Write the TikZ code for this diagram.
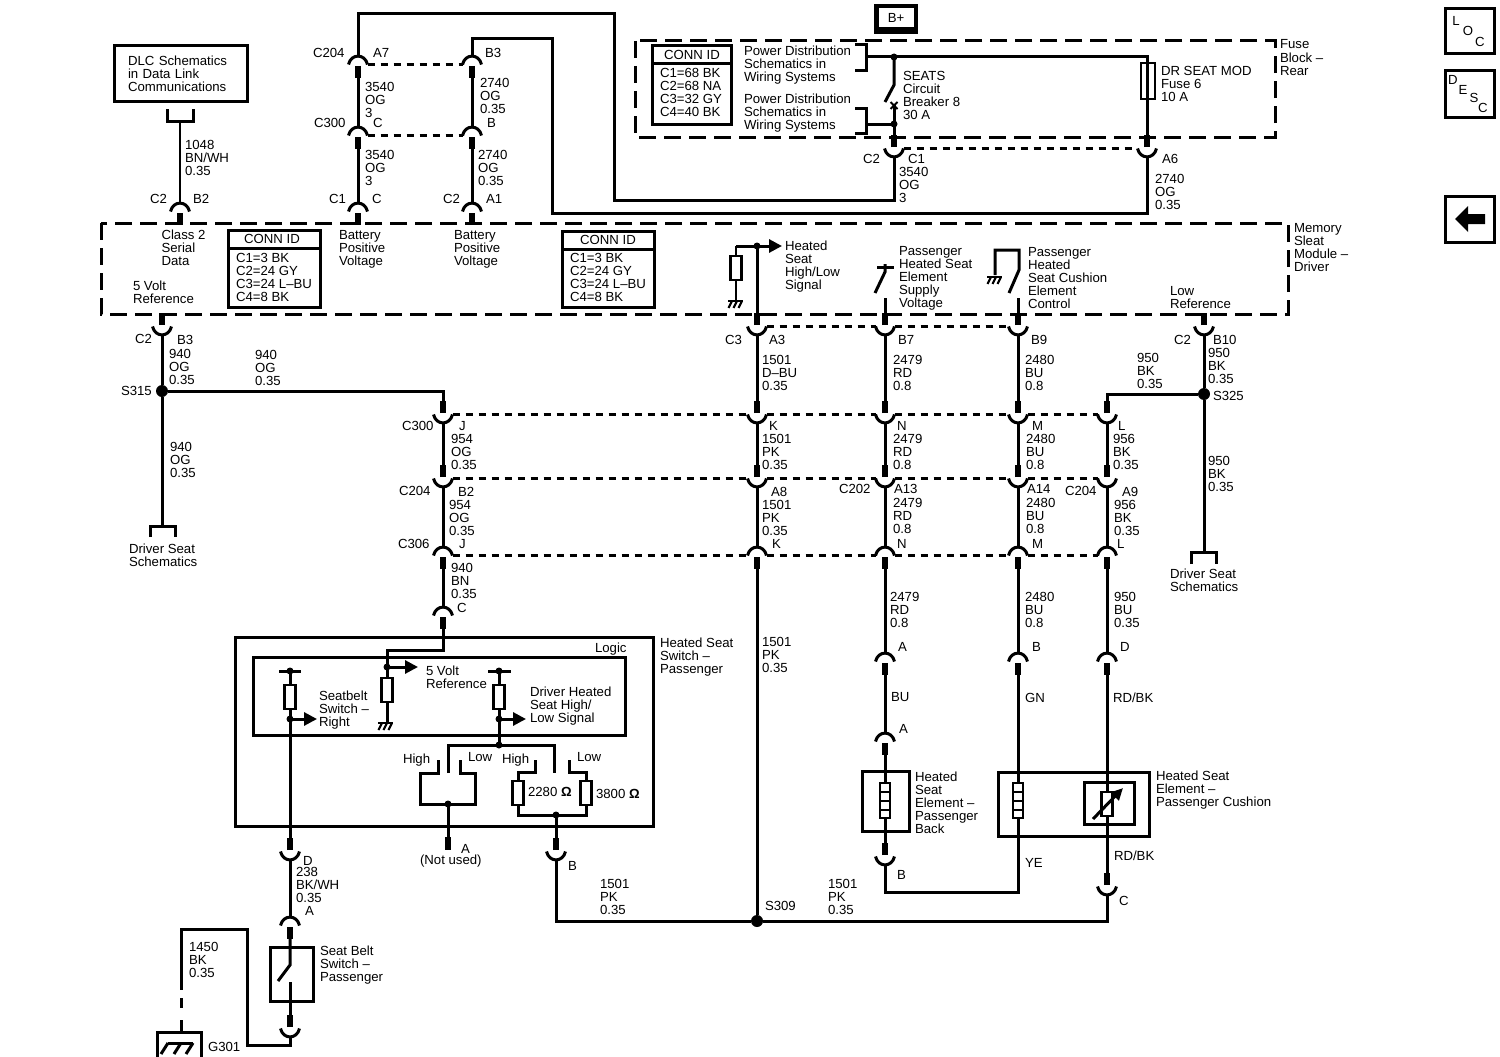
\documentclass[tikz,border=0pt]{standalone}
\usepackage{fontspec}
\setmainfont{Liberation Sans}
\usetikzlibrary{arrows.meta,calc}
\newcounter{lbn}
\tikzset{
  wire/.style={line width=3pt,line cap=butt,line join=miter},
  thin wire/.style={line width=2.5pt,line join=miter},
  pinstub/.style={line width=5.5pt},
  boxline/.style={line width=3pt,line join=miter},
  modframe/.style={line width=3pt,dash pattern=on 17pt off 8pt},
  linkdash/.style={line width=2.8pt,dash pattern=on 7pt off 6pt},
  lbl/.style={anchor=north west,inner sep=0pt,outer sep=0pt,align=left,font=\fontsize{13.2}{13.2}\selectfont},
  ctr/.style={inner sep=0pt,outer sep=0pt,font=\fontsize{13.2}{13.2}\selectfont},
  sig/.style={wire,-{Triangle[length=13pt,width=13pt]}},
  dotj/.style={circle,fill=black,inner sep=0pt,minimum size=12pt},
  dots/.style={circle,fill=black,inner sep=0pt,minimum size=7pt},
}
% text label: x, top y, text
\newcommand\lab[3]{\stepcounter{lbn}\node[lbl] (t\arabic{lbn}) at (#1,#2) {\rule{0pt}{10pt}#3};}
% connector, arc on top, pin below
\newcommand\conU[3]{%
  \coordinate (#1) at (#2,#3);
  \coordinate (#1-p) at (#2,#3+22);
  \coordinate (#1-L) at ({#2-9.5},{#3+8.5});
  \coordinate (#1-R) at ({#2+9.5},{#3+8.5});
  \draw[line width=3pt] (#1-L) .. controls ({#2-7},{#3-2.7}) and ({#2+7},{#3-2.7}) .. (#1-R);
  \draw[pinstub] ({#2},{#3+10}) -- (#1-p);}
% connector, pin above, arc below
\newcommand\conD[3]{%
  \coordinate (#1) at (#2,#3);
  \coordinate (#1-p) at (#2,#3-22);
  \coordinate (#1-L) at ({#2-9.5},{#3-8.5});
  \coordinate (#1-R) at ({#2+9.5},{#3-8.5});
  \draw[line width=3pt] (#1-L) .. controls ({#2-7},{#3+2.7}) and ({#2+7},{#3+2.7}) .. (#1-R);
  \draw[pinstub] ({#2},{#3-10}) -- (#1-p);}
\newcommand\resis[3]{\draw[thin wire,fill=white] ({#1-5.5},#2) rectangle ({#1+5.5},#3);}
\newcommand\gnd[2]{%
  \draw[thin wire] ({#1-8},#2) -- ({#1+7},#2);
  \foreach \dx in {-4,1,6} {\draw[line width=2.2pt] ({#1+\dx},#2) -- ({#1+\dx-3.5},{#2+7});}}
\newcommand\heater[1]{%
  \draw[thin wire,fill=white] ({#1-5},783) rectangle ({#1+5},818);
  \foreach \yy in {792,801,810} {\draw[line width=2.2pt] ({#1-5},\yy) -- ({#1+5},\yy);}}
\newcommand\connid[9]{% x1 y1 x2 y2 divider titlecx linesx linesy lines
  \draw[boxline] (#1,#2) rectangle (#3,#4);
  \draw[boxline] (#1,#5) -- (#3,#5);
  \stepcounter{lbn}\node[ctr] (t\arabic{lbn}) at (#6,{#5-9}) {CONN ID};
  \lab{#7}{#8}{#9}}
\begin{document}
\begin{tikzpicture}[x=1pt,y=-1pt]
\useasboundingbox (0,0) rectangle (1500,1057);

% ---------- frames
\draw[modframe] (101,223) rectangle (1288,314);
\draw[modframe] (635,41) rectangle (1275,137);

% ---------- DLC
\node[draw,line width=3pt,minimum width=133pt,minimum height=55pt,inner sep=0pt,text width=105pt,align=left,font=\fontsize{13.2}{13.2}\selectfont] (dlc) at (180.5,73.5) {DLC Schematics\\in Data Link\\Communications};
\coordinate (dlcbL) at (167,109); \coordinate (dlcbR) at (193,109); \coordinate (dlcbM) at (180,121);
\draw[wire] (dlcbL) |- (dlcbM) -| (dlcbR);
\conU{cB2}{180}{203}
\draw[wire,line width=2.5pt] (dlcbM) -- (cB2);
\lab{185}{139}{1048\\BN/WH\\0.35}
\lab{150}{193}{C2} \lab{193}{193}{B2}
\lab{161.5}{229.5}{Class 2\\Serial\\Data}
\connid{228}{230}{320}{307}{248}{272}{236}{252}{C1=3 BK\\C2=24 GY\\C3=24 L–BU\\C4=8 BK}
\lab{133}{280}{5 Volt\\Reference}

% ---------- battery feeds
\conU{cA7}{358}{56} \conU{cB3}{472}{56}
\conU{cC3a}{358}{127} \conU{cBb}{472}{127}
\conU{cC1l}{358}{203} \conU{cA1}{472}{203}
\draw[linkdash] (cA7-R) -- (cB3-L);
\draw[linkdash] (cC3a-R) -- (cBb-L);
\draw[wire] (cA7-p) -- (cC3a);
\draw[wire] (cC3a-p) -- (cC1l);
\draw[wire] (cB3-p) -- (cBb);
\draw[wire] (cBb-p) -- (cA1);
\lab{313}{47.5}{C204} \lab{373}{47.5}{A7}
\lab{365}{81}{3540\\OG\\3}
\lab{485}{47.5}{B3} \lab{480}{77}{2740\\OG\\0.35}
\lab{314}{117}{C300} \lab{373}{118}{C} \lab{487}{118}{B}
\lab{365}{149}{3540\\OG\\3} \lab{478}{149}{2740\\OG\\0.35}
\lab{329}{193}{C1} \lab{372}{193}{C} \lab{443}{193}{C2} \lab{486}{193}{A1}
\lab{339}{229.5}{Battery\\Positive\\Voltage}
\lab{454}{229.5}{Battery\\Positive\\Voltage}
\connid{562}{231}{654}{307}{249}{608}{570}{252}{C1=3 BK\\C2=24 GY\\C3=24 L–BU\\C4=8 BK}

% ---------- fuse block
\connid{652}{46}{731}{124}{64}{692}{660}{67}{C1=68 BK\\C2=68 NA\\C3=32 GY\\C4=40 BK}
\lab{744}{45}{Power Distribution\\Schematics in\\Wiring Systems}
\lab{744}{93}{Power Distribution\\Schematics in\\Wiring Systems}
\coordinate (br1a) at (855,45); \coordinate (br1b) at (855,71); \coordinate (br1m) at (866,57);
\coordinate (br2a) at (855,108); \coordinate (br2b) at (855,133); \coordinate (br2m) at (866,124);
\draw[wire] (br1a) -| (br1m) |- (br1b);
\draw[wire] (br2a) -| (br2m) |- (br2b);
\coordinate (cbTop) at (894,57); \coordinate (cbA) at (894,85); \coordinate (cbB) at (885,102);
\coordinate (cbX) at (894,105); \coordinate (cbJ) at (894,124); \coordinate (fuTop) at (1147,57);
\conD{cC1r}{894}{157} \conD{cA6}{1147}{157}
\draw[wire] (br1m) -- (fuTop) -- (cA6-p);
\draw[wire] (cbTop) -- (cbA) -- (cbB);
\draw[wire] (cbX) -- (cC1r-p);
\draw[wire] (br2m) -- (cbJ);
\draw[line width=2pt] (890.5,102) -- (897.5,109) (897.5,102) -- (890.5,109);
\node[dots] (dCB1) at (cbTop) {};
\node[dots] (dCB2) at (cbJ) {};
\draw[thin wire,fill=white] (1141,63) rectangle (1155,99);
\draw[wire] (1147,63) -- (1147,99);
\draw[linkdash] (cC1r-R) -- (cA6-L);
\lab{903}{70}{SEATS\\Circuit\\Breaker 8\\30 A}
\lab{1161}{65}{DR SEAT MOD\\Fuse 6\\10 A}
\lab{1280}{39}{Fuse\\Block –\\Rear}
\lab{863}{153}{C2} \lab{908}{153}{C1} \lab{899}{166.5}{3540\\OG\\3}
\lab{1162}{153}{A6} \lab{1155}{173}{2740\\OG\\0.35}

% B+
\fill (874,4) rectangle (918,34);
\node[fill=white,minimum width=35pt,minimum height=19pt,inner sep=0pt,font=\fontsize{13.2}{13.2}\selectfont] (bplus) at (896,17.5) {B+};

% long feeds
\coordinate (f1a) at (358,14); \coordinate (f1b) at (614,14); \coordinate (f1c) at (614,200); \coordinate (f1d) at (894,200);
\draw[wire] (cA7) -- (f1a) -- (f1b) -- (f1c) -- (f1d) -- (cC1r);
\coordinate (f2a) at (472,39); \coordinate (f2b) at (552,39); \coordinate (f2c) at (552,213); \coordinate (f2d) at (1147,213);
\draw[wire] (cB3) -- (f2a) -- (f2b) -- (f2c) -- (f2d) -- (cA6);

% ---------- module internals
\lab{1294}{222}{Memory\\Sleat\\Module –\\Driver}
\coordinate (hsTop) at (757,246); \coordinate (hsL) at (736,246); \coordinate (hsArrow) at (782,246);
\draw[sig] (hsL) -- (hsArrow);
\draw[wire] (hsTop) -- (757,314);
\node[dots] (dHS) at (hsTop) {};
\draw[thin wire] (hsL) -- (736,300);
\resis{736}{256}{280}
\gnd{736}{301}
\lab{785}{240}{Heated\\Seat\\High/Low\\Signal}
% supply switch
\draw[wire] (885,298) -- (885,314);
\draw[wire] (877,267) -- (894,267);
\draw[wire] (885,264) -- (885,272) -- (875,293);
\lab{899}{245}{Passenger\\Heated Seat\\Element\\Supply\\Voltage}
% control switch
\draw[wire] (1018,298) -- (1018,314);
\draw[wire] (995,275) -- (995,250) -- (1019,250) -- (1019,270) -- (1009,293);
\gnd{995}{277}
\lab{1028}{246}{Passenger\\Heated\\Seat Cushion\\Element\\Control}
\lab{1170}{285}{Low\\Reference}

% ---------- below module: connectors
\conD{c5v}{162}{335}
\conD{cA3}{757}{335} \conD{cB7}{885}{335} \conD{cB9}{1018}{335} \conD{cB10}{1204}{335}
\draw[linkdash] (cA3-R) -- (cB7-L);
\draw[linkdash] (cB7-R) -- (cB9-L);
\foreach \xx/\nn in {443/j,757/k,885/n,1018/m,1107/l} {
  \conD{r1\nn}{\xx}{423}
  \conD{r2\nn}{\xx}{487}
  \conU{r3\nn}{\xx}{547}
}
\draw[linkdash] (r1j-R) -- (r1k-L);
\draw[linkdash] (r1k-R) -- (r1n-L);
\draw[linkdash] (r1n-R) -- (r1m-L);
\draw[linkdash] (r1m-R) -- (r1l-L);
\draw[linkdash] (r2j-R) -- (r2k-L);
\draw[linkdash] (r2k-R) -- (r2n-L);
\draw[linkdash] (r2n-R) -- (r2m-L);
\draw[linkdash] (r2m-R) -- (r2l-L);
\draw[linkdash] (r3j-R) -- (r3k-L);
\draw[linkdash] (r3k-R) -- (r3n-L);
\draw[linkdash] (r3n-R) -- (r3m-L);
\draw[linkdash] (r3m-R) -- (r3l-L);
\foreach \nn in {j,k,n,m,l} {\draw[wire] (r1\nn) -- (r2\nn-p); \draw[wire] (r2\nn) -- (r3\nn);}
\draw[wire] (cA3) -- (r1k-p);
\draw[wire] (cB7) -- (r1n-p);
\draw[wire] (cB9) -- (r1m-p);

% 940 OG + S315
\node[dotj] (s315) at (162,391) {};
\coordinate (s315r) at (443,391);
\coordinate (dsL) at (150,537); \coordinate (dsM) at (162,526); \coordinate (dsR) at (175,537);
\draw[wire] (dsL) |- (dsM) -| (dsR);
\draw[wire] (c5v) -- (s315) -- (dsM);
\draw[wire] (s315) -- (s315r) -- (r1j-p);
\lab{135}{333}{C2} \lab{177}{334}{B3} \lab{169}{348}{940\\OG\\0.35}
\lab{255}{349}{940\\OG\\0.35} \lab{121}{385}{S315} \lab{170}{441}{940\\OG\\0.35}
\lab{129}{543}{Driver Seat\\Schematics}

% col 443
\lab{402}{420}{C300} \lab{459}{420}{J} \lab{451}{433}{954\\OG\\0.35}
\lab{399}{485}{C204} \lab{458}{486}{B2} \lab{449}{499}{954\\OG\\0.35}
\lab{398}{538}{C306} \lab{459}{538}{J} \lab{451}{562}{940\\BN\\0.35} \lab{457}{602}{C}
\conU{cCsw}{443}{607}
\draw[wire] (r3j-p) -- (cCsw);

% col 757
\lab{725}{334}{C3} \lab{769}{334}{A3} \lab{762}{354}{1501\\D–BU\\0.35}
\lab{769}{420}{K} \lab{762}{433}{1501\\PK\\0.35}
\lab{771}{486}{A8} \lab{762}{499}{1501\\PK\\0.35}
\lab{772}{538}{K} \lab{762}{636}{1501\\PK\\0.35}
\lab{765}{900}{S309}
\node[dotj] (s309) at (757,921) {};
\draw[wire] (r3k-p) -- (s309);

% col 885
\lab{898}{334}{B7} \lab{893}{354}{2479\\RD\\0.8}
\lab{897}{420}{N} \lab{893}{433}{2479\\RD\\0.8}
\lab{839}{483}{C202} \lab{894}{483}{A13} \lab{893}{497}{2479\\RD\\0.8}
\lab{897}{538}{N} \lab{890}{591}{2479\\RD\\0.8}
\lab{898}{641}{A} \lab{891}{691}{BU} \lab{899}{723}{A}
\conU{cAb1}{885}{653} \conU{cAb2}{885}{733} \conD{cBb2}{885}{865}
\draw[wire] (r3n-p) -- (cAb1);
\draw[wire] (cAb1-p) -- (cAb2);
\draw[wire] (cAb2-p) -- (cBb2-p);
\node[draw,line width=3pt,minimum width=47pt,minimum height=60pt,inner sep=0pt] (bkbox) at (885.5,801.5) {};
\heater{885}
\lab{915}{771}{Heated\\Seat\\Element –\\Passenger\\Back}
\lab{897}{869}{B}

% col 1018
\lab{1031}{334}{B9} \lab{1025}{354}{2480\\BU\\0.8}
\lab{1032}{420}{M} \lab{1026}{433}{2480\\BU\\0.8}
\lab{1027}{483}{A14} \lab{1026}{497}{2480\\BU\\0.8}
\lab{1032}{538}{M} \lab{1025}{591}{2480\\BU\\0.8}
\lab{1032}{641}{B} \lab{1025}{692}{GN} \lab{1025}{857}{YE}
\conU{cBe}{1018}{653}
\draw[wire] (r3m-p) -- (cBe);
\coordinate (ye1) at (885,892); \coordinate (ye2) at (1018,892);
\draw[wire] (cBe-p) -- (ye2) -- (ye1) -- (cBb2);
\node[draw,line width=3pt,minimum width=151pt,minimum height=64pt,inner sep=0pt] (cubox) at (1073.5,804) {};
\heater{1018}

% col 1107
\lab{1118}{420}{L} \lab{1113}{433}{956\\BK\\0.35}
\lab{1065}{485}{C204} \lab{1122}{486}{A9} \lab{1114}{499}{956\\BK\\0.35}
\lab{1117}{538}{L} \lab{1114}{591}{950\\BU\\0.35}
\lab{1120}{641}{D} \lab{1113}{692}{RD/BK} \lab{1114}{850}{RD/BK} \lab{1119}{895}{C}
\lab{1137}{352}{950\\BK\\0.35}
\conU{cDe}{1107}{653} \conD{cCe}{1107}{895}
\draw[wire] (r3l-p) -- (cDe);
\draw[wire] (cDe-p) -- (cCe-p);
\node[draw,line width=3pt,minimum width=50pt,minimum height=42pt,inner sep=0pt] (thbox) at (1109,803) {};
\draw[wire] (1107,772) -- (1107,792) (1107,816) -- (1107,836);
\resis{1107}{792}{816}
\draw[line width=3pt,-{Triangle[length=12pt,width=11pt]}] (1093,819) -- (1123,788);
\lab{1156}{770}{Heated Seat\\Element –\\Passenger Cushion}

% col 1204
\node[dotj] (s325) at (1204,394) {};
\coordinate (s325l) at (1107,394);
\coordinate (ds2L) at (1191,564); \coordinate (ds2M) at (1204,552); \coordinate (ds2R) at (1216,564);
\draw[wire] (ds2L) |- (ds2M) -| (ds2R);
\draw[wire] (cB10) -- (s325) -- (ds2M);
\draw[wire] (s325) -- (s325l) -- (r1l-p);
\lab{1174}{334}{C2} \lab{1213}{334}{B10} \lab{1208}{347}{950\\BK\\0.35}
\lab{1213}{390}{S325} \lab{1208}{455}{950\\BK\\0.35}
\lab{1170}{568}{Driver Seat\\Schematics}

% ---------- switch
\node[draw,line width=3pt,minimum width=418pt,minimum height=189pt,inner sep=0pt] (swouter) at (444,731.5) {};
\node[draw,line width=3pt,minimum width=372pt,minimum height=78pt,inner sep=0pt] (swinner) at (439,696) {};
\lab{595}{642}{Logic}
\lab{660}{637}{Heated Seat\\Switch –\\Passenger}
% feed to 5 V
\coordinate (v5a) at (443,650); \coordinate (v5b) at (387,650); \coordinate (v5c) at (387,667);
\coordinate (v5g) at (387,723); \coordinate (v5arr) at (418,667);
\draw[wire] (cCsw-p) -- (v5a) -- (v5b) -- (v5g);
\resis{387}{678}{702}
\gnd{386}{723}
\draw[sig] (v5c) -- (v5arr);
\node[dots] (dv5) at (v5c) {};
\lab{426}{665}{5 Volt\\Reference}
% seatbelt pull-up
\coordinate (sbT) at (290,671); \coordinate (sbS) at (290,719); \coordinate (sbAr) at (317,719);
\conD{cDsw}{290}{860}
\draw[wire] (sbT) -- (cDsw-p);
\draw[wire] (279,671) -- (301,671);
\resis{290}{685}{709}
\draw[sig] (sbS) -- (sbAr);
\node[dots] (dsb1) at (sbT) {};
\node[dots] (dsb2) at (sbS) {};
\lab{319}{690}{Seatbelt\\Switch –\\Right}
\lab{303}{855}{D} \lab{296}{866}{238\\BK/WH\\0.35} \lab{305}{905}{A}
% driver heated
\coordinate (hT) at (499,671); \coordinate (hS) at (499,719); \coordinate (hAr) at (526,719); \coordinate (hJ) at (499,745);
\draw[wire] (hT) -- (hJ);
\draw[wire] (488,671) -- (511,671);
\resis{499}{685}{709}
\draw[sig] (hS) -- (hAr);
\node[dots] (dh1) at (hT) {};
\node[dots] (dh2) at (hS) {};
\node[dots] (dh3) at (hJ) {};
\lab{530}{686}{Driver Heated\\Seat High/\\Low Signal}
\coordinate (blL) at (448,773); \coordinate (blR) at (554,773);
\coordinate (blLt) at (448,745); \coordinate (blRt) at (554,745);
\draw[wire] (blL) -- (blLt) -- (blRt) -- (blR);
% left contacts
\draw[wire] (438,760) -- (438,773) -- (420,773) -- (420,804) -- (475,804) -- (475,773) -- (460,773) -- (460,760);
\coordinate (aJ) at (448,804); \coordinate (aPin) at (448,837); \coordinate (aEnd) at (448,850);
\draw[wire] (aJ) -- (aPin);
\draw[pinstub] (aPin) -- (aEnd);
\node[dots] (da) at (aJ) {};
\lab{403}{753}{High} \lab{468}{751}{Low}
\lab{461}{843}{A} \lab{420}{854}{(Not used)}
% right contacts
\draw[wire] (535,760) -- (535,772) -- (518,772) -- (518,815) -- (586,815) -- (586,772) -- (569,772) -- (569,760);
\resis{518}{781}{805}
\resis{586}{781}{805}
\conD{cBsw}{556}{860}
\coordinate (bJ) at (556,815);
\draw[wire] (bJ) -- (cBsw-p);
\node[dots] (db) at (bJ) {};
\lab{502}{753}{High} \lab{577}{751}{Low}
\lab{528}{786}{2280 {\bfseries Ω}} \lab{596}{788}{3800 {\bfseries Ω}}
\lab{568}{860}{B}
% bottom bus
\coordinate (bus1) at (556,921); \coordinate (bus2) at (1107,921);
\draw[wire] (cBsw) -- (bus1) -- (s309) -- (bus2) -- (cCe);
\lab{600}{878}{1501\\PK\\0.35} \lab{828}{878}{1501\\PK\\0.35}

% ---------- seat belt switch / ground
\conU{cAs}{290}{917} \conD{cBs}{290}{1037}
\draw[wire] (cDsw) -- (cAs);
\node[draw,line width=3pt,minimum width=43pt,minimum height=54pt,inner sep=0pt] (sbbox) at (291.5,974) {};
\coordinate (sA) at (290,965); \coordinate (sB) at (278,981); \coordinate (sC) at (290,982);
\draw[wire] (cAs-p) -- (sA) -- (sB);
\draw[wire] (sC) -- (cBs-p);
\lab{320}{945}{Seat Belt\\Switch –\\Passenger}
\coordinate (g1) at (290,1045); \coordinate (g2) at (247,1045); \coordinate (g3) at (247,929); \coordinate (g4) at (181,929); \coordinate (g5) at (181,990);
\draw[wire] (cBs) -- (g1) -- (g2) -- (g3) -- (g4) -- (g5);
\draw[wire] (181,998) -- (181,1008) (181,1020) -- (181,1032);
\draw[wire] (157,1057) -- (157,1032) -- (201,1032) -- (201,1057);
\draw[wire] (168,1043) -- (193,1043);
\foreach \gx in {168,181,193} {\draw[wire] (\gx,1043) -- ({\gx-7},1054);}
\lab{189}{941}{1450\\BK\\0.35}
\lab{208}{1041}{G301}

% ---------- side icons
\draw[boxline] (1445,9) rectangle (1494,54);
\node[ctr] (iL) at (1456,21) {L}; \node[ctr] (iO) at (1468,31) {O}; \node[ctr] (iC) at (1480,42) {C};
\draw[boxline] (1445,71) rectangle (1494,117);
\node[ctr] (iD) at (1453,80) {D}; \node[ctr] (iE) at (1463,90) {E}; \node[ctr] (iS) at (1474,98) {S}; \node[ctr] (iC2) at (1483,108) {C};
\draw[boxline] (1445,196) rectangle (1494,242);
\fill (1455,219) -- (1468,206) -- (1468,214) -- (1485,214) -- (1485,224) -- (1468,224) -- (1468,232) -- cycle;
\end{tikzpicture}
\end{document}
